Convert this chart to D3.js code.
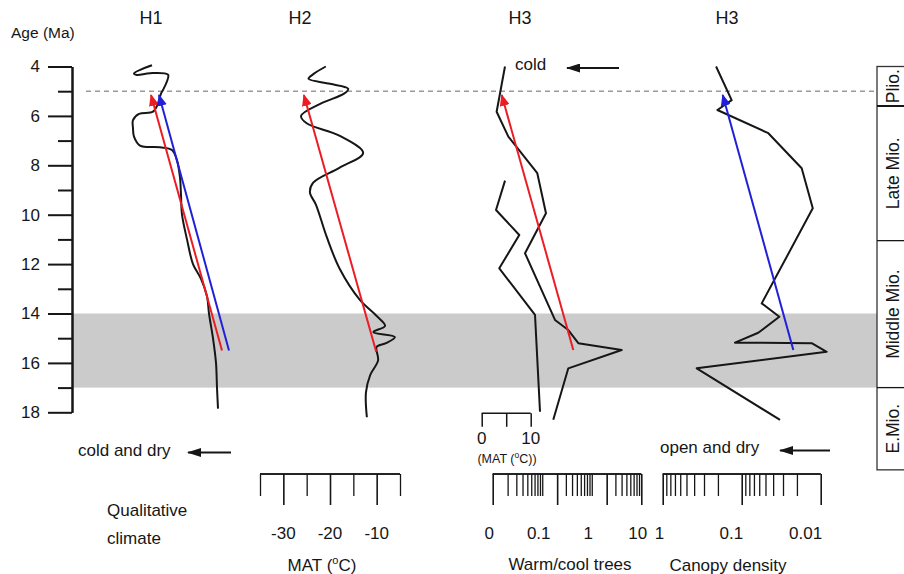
<!DOCTYPE html>
<html>
<head>
<meta charset="utf-8">
<script src="https://cdn.jsdelivr.net/npm/d3@7/dist/d3.min.js"></script>
<style>
body { margin: 0; background: #fff; }
text { font-family: "Liberation Sans", Arial, sans-serif; fill: #161616; }
</style>
</head>
<body>
<svg id="chart" width="904" height="574"></svg>
<script>
// ---- data (ages in Ma) ----
var ageMajor = [4, 6, 8, 10, 12, 14, 16, 18];
var ageMinor = [5, 7, 9, 11, 13, 15, 17];
var panelTitles = ["H1", "H2", "H3", "H3"];

// H1: qualitative climate index (arbitrary units), [age, index]
var h1Curve = [[3.95, 42], [4.28, 24], [4.34, 27], [4.27, 40], [4.33, 58], [4.6, 57], [4.95, 53],
  [5.1, 51], [5.5, 48], [5.83, 43], [5.92, 29], [6.17, 23], [6.5, 23], [6.84, 24], [7.2, 30],
  [7.27, 50], [7.38, 62], [7.8, 67], [8.5, 70], [9.2, 71], [10.0, 72], [11.0, 77], [12.0, 83],
  [12.6, 91], [13.3, 97], [14.0, 99], [15.0, 103], [16.0, 106], [17.0, 107], [17.85, 108]];
var h1Red = [[15.5, 112], [5.15, 41]];
var h1Blue = [[15.5, 119], [5.15, 49]];

// H2: MAT (deg C), [age, MAT]
var h2Curve = [[4.0, -20.9], [4.3, -23.5], [4.5, -24.6], [4.7, -20], [4.9, -16.1], [5.1, -17],
  [5.5, -22], [6.0, -26.2], [6.3, -25], [6.8, -18], [7.5, -12.9], [8.1, -18], [8.7, -23.6],
  [9.1, -24.3], [9.6, -23], [10.9, -20.7], [12.2, -17.9], [13.45, -13.6], [14.1, -10.0],
  [14.5, -8.2], [14.75, -10.7], [14.95, -6.1], [15.2, -8], [15.35, -10.0], [15.9, -9.7],
  [16.5, -11.4], [17.2, -12.3], [18.2, -12.1]];
var h2Red = [[15.55, -10.1], [5.15, -25.6]];
var matTicks = [-35, -25, -15, -5];
var matLongTicks = [-30, -20, -10];

// H3: warm/cool trees ratio, [age, ratio]
var h3Ratio = [[4.0, 0.0177], [5.83, 0.012], [6.84, 0.0207], [8.32, 0.0795], [9.94, 0.119],
  [11.56, 0.0449], [14.26, 0.181], [14.67, 0.336], [15.2, 0.535], [15.48, 4.02], [16.22, 0.336],
  [18.3, 0.167]];
// H3: MAT (deg C) on the small 0-10 scale, [age, MAT]
var h3Mat = [[8.62, 4.76], [9.81, 2.92], [10.82, 7.67], [12.17, 3.59], [14.06, 10.88], [17.98, 11.9]];
var h3Red = [[15.48, 0.424], [5.15, 0.0152]];
var ratioLongTicks = [0.01, 0.2, 2, 10];
var ratioShortTicks = [0.02, 0.03, 0.04, 0.05, 0.06, 0.07, 0.08, 0.09, 0.1,
  0.3, 0.4, 0.5, 0.6, 0.7, 0.8, 0.9, 1, 3, 4, 5, 6, 7, 8, 9];
var ratioLabels = [[0.01, "0"], [0.1, "0.1"], [1, "1"], [10, "10"]];
var smallMatTicks = [0, 5, 10];
var smallMatLabels = [0, 10];

// H3: canopy density, [age, density]
var canopy = [[4.0, 0.211], [5.36, 0.134], [5.76, 0.203], [6.7, 0.046], [8.12, 0.0174],
  [9.74, 0.0126], [13.59, 0.0558], [14.13, 0.0334], [14.78, 0.0617], [15.18, 0.1216],
  [15.2, 0.013], [15.55, 0.0084], [16.22, 0.371], [18.31, 0.0327]];
var canopyBlue = [[15.48, 0.0222], [5.15, 0.174]];
var canopyLongTicks = [1, 0.1, 0.01];
var canopyShortTicks = [0.9, 0.8, 0.7, 0.6, 0.5, 0.4, 0.3, 0.2,
  0.09, 0.08, 0.07, 0.06, 0.05, 0.04, 0.03, 0.02];
var canopyLabels = [[1, "1"], [0.1, "0.1"], [0.01, "0.01"]];

// epochs [name, younger, older]
var epochs = [["Plio.", 4.0, 5.6], ["Late Mio.", 5.6, 11.05], ["Middle Mio.", 11.05, 17.0], ["E.Mio.", 17.0, 20.33]];
var bandAges = [14, 17];
var dashedAge = 5;

// ---- scales ----
var svg = d3.select("#chart");
var y = d3.scaleLinear().domain([4, 18]).range([66.5, 412.3]);
var xH1 = d3.scaleLinear().domain([0, 130]).range([110, 240]);
var xMat = d3.scaleLinear().domain([-35, -5]).range([260, 400]);
var xRatio = d3.scaleLog().domain([0.01, 10]).range([492.7, 641.3]);
var xSmallMat = d3.scaleLinear().domain([0, 10]).range([481.7, 530.7]);
var xCanopy = d3.scaleLog().domain([1, 0.01]).range([662.7, 820.7]);

var red = "#ec1c24", blue = "#2020d8", ink = "#161616";

var defs = svg.append("defs");
function addMarker(id, color, w, h) {
  defs.append("marker")
    .attr("id", id)
    .attr("viewBox", "0 0 " + w + " " + h)
    .attr("refX", w - 1).attr("refY", h / 2)
    .attr("markerWidth", w).attr("markerHeight", h)
    .attr("markerUnits", "userSpaceOnUse")
    .attr("orient", "auto")
    .append("path")
    .attr("d", "M0,0L" + w + "," + (h / 2) + "L0," + h + "Z")
    .attr("fill", color);
}
addMarker("headRed", red, 12, 10);
addMarker("headBlue", blue, 12, 10);
addMarker("headBlack", ink, 14, 9);

// gray band (middle Miocene climatic optimum)
svg.append("rect")
  .attr("x", 72).attr("width", 877 - 72)
  .attr("y", y(bandAges[0])).attr("height", y(bandAges[1]) - y(bandAges[0]))
  .attr("fill", "#cbcbcb");

// dashed line at 5 Ma
svg.append("line")
  .attr("x1", 86).attr("x2", 877)
  .attr("y1", y(dashedAge)).attr("y2", y(dashedAge))
  .attr("stroke", "#9a9a9a").attr("stroke-width", 1.4)
  .attr("stroke-dasharray", "5,4");

// ---- age axis ----
// minor and major ticks get their own groups, a second axis call on the same g drops the first ticks
var ageMinorG = svg.append("g").attr("transform", "translate(72,0)").style("color", ink);
ageMinorG.call(d3.axisLeft(y).tickValues(ageMinor).tickSize(14).tickSizeOuter(0).tickFormat(""));
var ageG = svg.append("g").attr("transform", "translate(72,0)").style("color", ink);
ageG.call(d3.axisLeft(y).tickValues(ageMajor).tickSize(24).tickSizeOuter(0).tickPadding(8).tickFormat(d3.format("d")));
ageMinorG.selectAll("path, line").attr("stroke-width", 2);
ageG.selectAll("path, line").attr("stroke-width", 2);
ageG.selectAll("text").attr("font-size", 17).attr("font-family", "Liberation Sans, Arial, sans-serif").attr("fill", ink);

svg.append("text").attr("x", 11).attr("y", 38).attr("font-size", 15.5).text("Age (Ma)");

// panel titles
var titleX = [151, 300, 520, 727];
svg.selectAll("text.title").data(panelTitles).enter().append("text")
  .attr("class", "title")
  .attr("x", function (d, i) { return titleX[i]; })
  .attr("y", 24)
  .attr("text-anchor", "middle")
  .attr("font-size", 18)
  .text(function (d) { return d; });

// ---- curves ----
function drawCurve(data, xs, curve) {
  var line = d3.line()
    .x(function (d) { return xs(d[1]); })
    .y(function (d) { return y(d[0]); })
    .curve(curve);
  svg.append("path").datum(data)
    .attr("d", line)
    .attr("fill", "none")
    .attr("stroke", ink)
    .attr("stroke-width", 2)
    .attr("stroke-linejoin", "round");
}
function drawArrow(data, xs, color, markerId) {
  svg.append("line")
    .attr("x1", xs(data[0][1])).attr("y1", y(data[0][0]))
    .attr("x2", xs(data[1][1])).attr("y2", y(data[1][0]))
    .attr("stroke", color).attr("stroke-width", 2)
    .attr("marker-end", "url(#" + markerId + ")");
}

drawCurve(h1Curve, xH1, d3.curveCatmullRom.alpha(0.5));
drawArrow(h1Red, xH1, red, "headRed");
drawArrow(h1Blue, xH1, blue, "headBlue");

drawCurve(h2Curve, xMat, d3.curveCatmullRom.alpha(0.5));
drawArrow(h2Red, xMat, red, "headRed");

drawCurve(h3Ratio, xRatio, d3.curveLinear);
drawCurve(h3Mat, xSmallMat, d3.curveLinear);
drawArrow(h3Red, xRatio, red, "headRed");

drawCurve(canopy, xCanopy, d3.curveLinear);
drawArrow(canopyBlue, xCanopy, blue, "headBlue");

// ---- bottom scales ----
function tickGroup(xs, values, size, yPos, width) {
  var g = svg.append("g").attr("transform", "translate(0," + yPos + ")").style("color", ink);
  g.call(d3.axisBottom(xs).tickValues(values).tickSize(size).tickSizeOuter(0).tickFormat(""));
  g.selectAll("path, line").attr("stroke-width", width);
  g.selectAll(".domain").attr("d", "M" + xs.range()[0] + ",0H" + xs.range()[1]);
  return g;
}
function bottomAxis(xs, longTicks, shortTicks, yPos) {
  tickGroup(xs, shortTicks, 22, yPos, 1.3);
  tickGroup(xs, longTicks, 31, yPos, 1.6);
}
bottomAxis(xMat, matLongTicks, matTicks, 474);
svg.selectAll("text.matlab").data(matLongTicks).enter().append("text")
  .attr("x", function (d) { return xMat(d); }).attr("y", 539)
  .attr("text-anchor", "middle").attr("font-size", 17)
  .text(function (d) { return d; });
var matTitle = svg.append("text").attr("x", 322).attr("y", 571).attr("text-anchor", "middle").attr("font-size", 17);
matTitle.append("tspan").text("MAT (");
matTitle.append("tspan").attr("font-size", 11).attr("dy", -7).text("o");
matTitle.append("tspan").attr("dy", 7).text("C)");

bottomAxis(xRatio, ratioLongTicks, ratioShortTicks, 474);
svg.selectAll("text.ratiolab").data(ratioLabels).enter().append("text")
  .attr("x", function (d) { return xRatio(d[0]) - 3.5; }).attr("y", 539)
  .attr("text-anchor", "middle").attr("font-size", 17)
  .text(function (d) { return d[1]; });
svg.append("text").attr("x", 570).attr("y", 570).attr("text-anchor", "middle").attr("font-size", 17).text("Warm/cool trees");

bottomAxis(xCanopy, canopyLongTicks, canopyShortTicks, 474);
svg.selectAll("text.canlab").data(canopyLabels).enter().append("text")
  .attr("x", function (d) { return xCanopy(d[0]) + 1.5; }).attr("y", 539)
  .attr("text-anchor", "end").attr("font-size", 17)
  .text(function (d) { return d[1]; });
svg.append("text").attr("x", 728).attr("y", 571).attr("text-anchor", "middle").attr("font-size", 17).text("Canopy density");

// small MAT scale in H3
tickGroup(xSmallMat, smallMatTicks, 13.5, 413.3, 1.5);
svg.selectAll("text.smalllab").data(smallMatLabels).enter().append("text")
  .attr("x", function (d) { return xSmallMat(d); }).attr("y", 444)
  .attr("text-anchor", "middle").attr("font-size", 17)
  .text(function (d) { return d; });
var smallTitle = svg.append("text").attr("x", 507).attr("y", 463).attr("text-anchor", "middle").attr("font-size", 12.5);
smallTitle.append("tspan").text("(MAT (");
smallTitle.append("tspan").attr("font-size", 8.5).attr("dy", -5).text("o");
smallTitle.append("tspan").attr("dy", 5).text("C))");

// ---- annotations ----
function note(label, tx, ty, ax1, ax2, ay) {
  svg.append("text").attr("x", tx).attr("y", ty).attr("font-size", 17).attr("dominant-baseline", "central").text(label);
  svg.append("line").attr("x1", ax1).attr("x2", ax2).attr("y1", ay).attr("y2", ay)
    .attr("stroke", ink).attr("stroke-width", 2)
    .attr("marker-end", "url(#headBlack)");
}
note("cold", 515, 64, 619, 567, 68);
note("cold and dry", 78, 450, 231, 188, 452.5);
note("open and dry", 660, 447, 830, 780, 450.5);

svg.append("text").attr("x", 107).attr("y", 516).attr("font-size", 17).text("Qualitative");
svg.append("text").attr("x", 107).attr("y", 544).attr("font-size", 17).text("climate");

// ---- epoch column ----
var epG = svg.append("g");
epG.append("rect")
  .attr("x", 877).attr("width", 40)
  .attr("y", y(epochs[0][1])).attr("height", y(epochs[epochs.length - 1][2]) - y(epochs[0][1]))
  .attr("fill", "none").attr("stroke", "#333").attr("stroke-width", 1.3);
epG.selectAll("line.div").data(epochs.slice(0, -1)).enter().append("line")
  .attr("x1", 877).attr("x2", 904)
  .attr("y1", function (d) { return y(d[2]); }).attr("y2", function (d) { return y(d[2]); })
  .attr("stroke", ink).attr("stroke-width", function (d, i) { return i === 0 ? 2 : 1.3; });
epG.selectAll("text.ep").data(epochs).enter().append("text")
  .attr("transform", function (d) { return "translate(893," + y((d[1] + d[2]) / 2) + ") rotate(-90)"; })
  .attr("text-anchor", "middle")
  .attr("dominant-baseline", "central")
  .attr("font-size", 17.5)
  .text(function (d) { return d[0]; });
</script>
</body>
</html>
